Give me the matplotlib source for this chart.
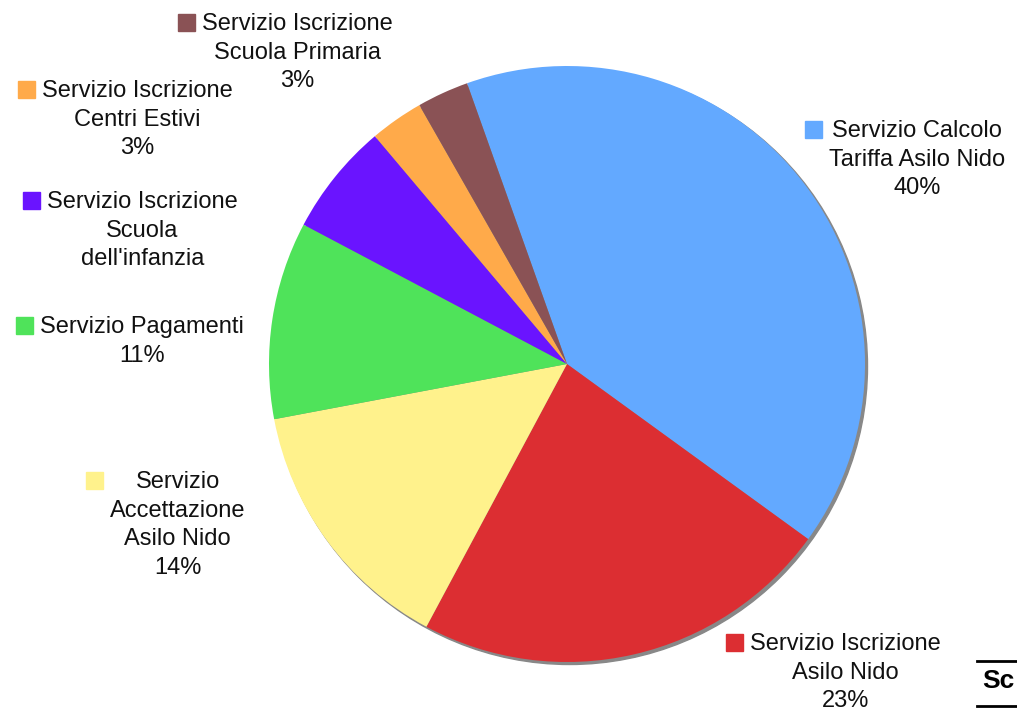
import matplotlib
matplotlib.use('Agg')
import matplotlib.pyplot as plt
from matplotlib.patches import Circle, Rectangle

plt.rcParams['font.family'] = ['Liberation Sans', 'DejaVu Sans']

# slices, clockwise from the top
labels = ["Servizio Calcolo\nTariffa Asilo Nido\n40%",
          "Servizio Iscrizione\nAsilo Nido\n23%",
          "Servizio\nAccettazione\nAsilo Nido\n14%",
          "Servizio Pagamenti\n11%",
          "Servizio Iscrizione\nScuola\ndell'infanzia",
          "Servizio Iscrizione\nCentri Estivi\n3%",
          "Servizio Iscrizione\nScuola Primaria\n3%"]
values = [40.4, 22.8, 14.2, 10.7, 6.1, 2.9, 2.8]
colors = ['#63a9ff', '#dc2e32', '#fff28c', '#4fe35a', '#6a14ff', '#ffaa4a', '#8a5255']
# label block: left x, first line centre y (pixels from top)
label_pos = [(829, 129), (750, 642), (110, 480), (40, 325), (47, 200), (42, 89), (202, 22)]

W, H = 1017, 711
fig = plt.figure(figsize=(W/100, H/100), dpi=100)
ax = fig.add_axes([0, 0, 1, 1])

cx, cy, r = 567, H-364, 298
ax.add_patch(Circle((cx+2.5, cy-2.5), r, color='#888888', zorder=0))
ax.pie(values, colors=colors, startangle=109.6, counterclock=False,
       center=(cx, cy), radius=r, frame=True,
       wedgeprops=dict(linewidth=0))
ax.set_xlim(0, W)
ax.set_ylim(0, H)
ax.axis('off')

fs = 17
for lab, col, (x, y) in zip(labels, colors, label_pos):
    ax.text(x, H-y+9, lab, ha='left', va='top', multialignment='center',
            fontsize=fs, color='#111111', linespacing=1.39, zorder=5)
    ax.add_patch(Rectangle((x-24, H-y-8.5), 17, 17, color=col, zorder=5))

# clipped title in the corner
ax.text(982, H-681, "Sc", fontsize=19, fontweight='bold', va='center', ha='left')
ax.plot([977, 1017], [H-661, H-661], color='black', lw=2)
ax.plot([977, 1017], [H-706, H-706], color='black', lw=2)

fig.savefig('out.png', dpi=100)
